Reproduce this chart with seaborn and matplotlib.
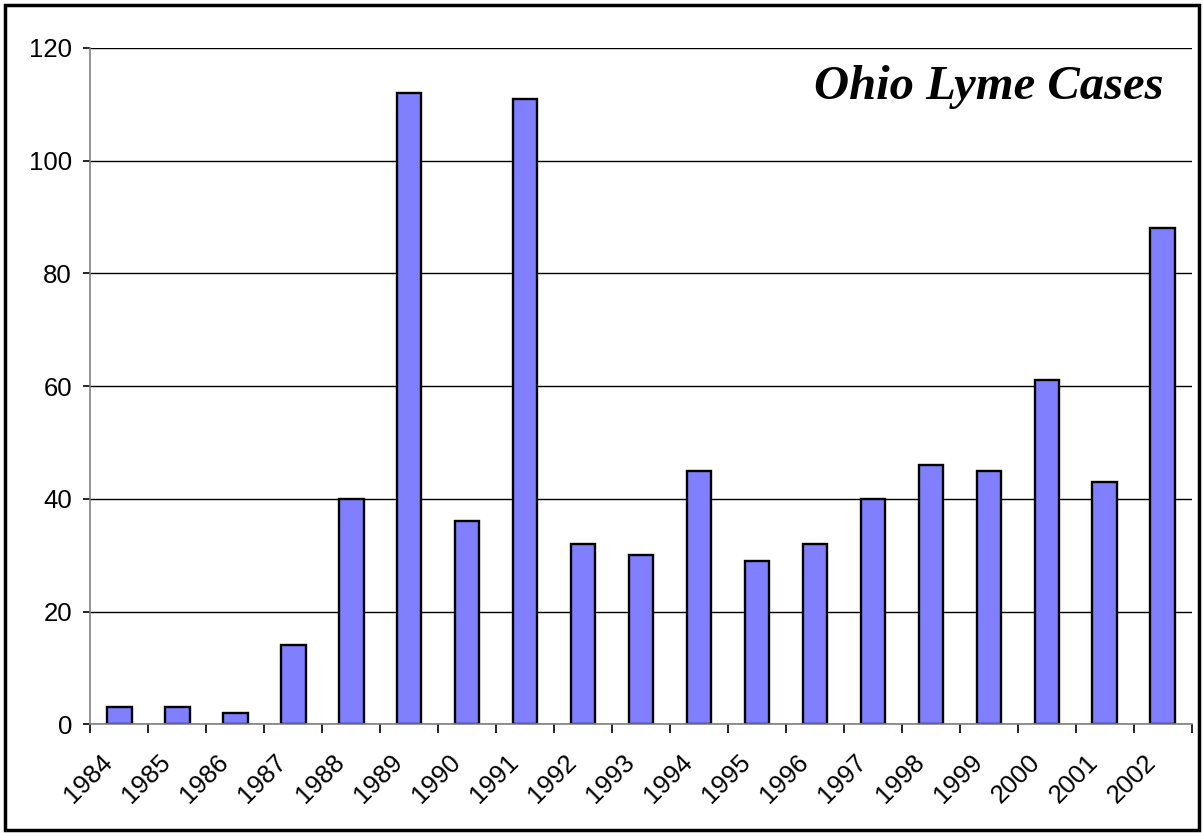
import numpy as np
import pandas as pd
import seaborn as sns
import matplotlib.pyplot as plt
import matplotlib.transforms as mtransforms
from matplotlib.patches import Rectangle

# Ohio Lyme disease cases per year
years = [str(y) for y in range(1984, 2003)]
cases = [3, 3, 2, 14, 40, 112, 36, 111, 32, 30, 45, 29, 32, 40, 46, 45, 61, 43, 88]
yticks = [0, 20, 40, 60, 80, 100, 120]
title = "Ohio Lyme Cases"

df = pd.DataFrame({"year": years, "cases": cases})

sns.set_style("white")
plt.rcParams['font.family'] = ['Liberation Sans', 'DejaVu Sans']
plt.rcParams['text.color'] = 'black'
plt.rcParams['xtick.color'] = 'black'
plt.rcParams['ytick.color'] = 'black'

fig = plt.figure(figsize=(12.04, 8.33), dpi=100)
ax = fig.add_axes([0.0748, 0.1305, 0.9152, 0.812])

sns.barplot(data=df, x="year", y="cases", color="#8080ff", saturation=1,
            edgecolor="black", linewidth=1.7, width=0.43, ax=ax)

ax.set_ylim(0, 120)
ax.set_xlim(-0.5, len(years) - 0.5)
ax.set_yticks(yticks)
ax.yaxis.grid(True, color="black", linewidth=1)
ax.set_axisbelow(True)
ax.set_xlabel("")
ax.set_ylabel("")

for side in ["top", "right"]:
    ax.spines[side].set_visible(False)
for side in ["left", "bottom"]:
    ax.spines[side].set_color("#808080")
    ax.spines[side].set_linewidth(1.2)

# category ticks between bars, labels at bar centres
ax.set_xticks(np.arange(-0.5, len(years), 1.0), minor=True)
ax.tick_params(axis="x", which="minor", direction="out", length=6.5, width=1.2, color="black", bottom=True)
ax.tick_params(axis="x", which="major", length=0, pad=18.5)
ax.tick_params(axis="y", direction="out", length=5, width=1.2, color="black", left=True, pad=8)
shift = mtransforms.ScaledTranslation(-0.19, 0, fig.dpi_scale_trans)
for lab in ax.get_xticklabels():
    lab.set_rotation(45)
    lab.set_ha("right")
    lab.set_rotation_mode("anchor")
    lab.set_fontsize(18.5)
    lab.set_transform(lab.get_transform() + shift)
plt.setp(ax.get_yticklabels(), fontsize=18.5, color="black")

ax.text(0.974, 111 / 120, title, transform=ax.transAxes,
        ha="right", va="baseline", fontsize=35, fontweight="bold", fontstyle="italic",
        color="black", family=["Liberation Serif", "DejaVu Serif"])

# frame around whole chart
fig.patches.append(Rectangle((0.004, 0.004), 0.992, 0.990, transform=fig.transFigure,
                             fill=False, edgecolor="black", linewidth=2.5))

fig.savefig("out.png", dpi=100)
